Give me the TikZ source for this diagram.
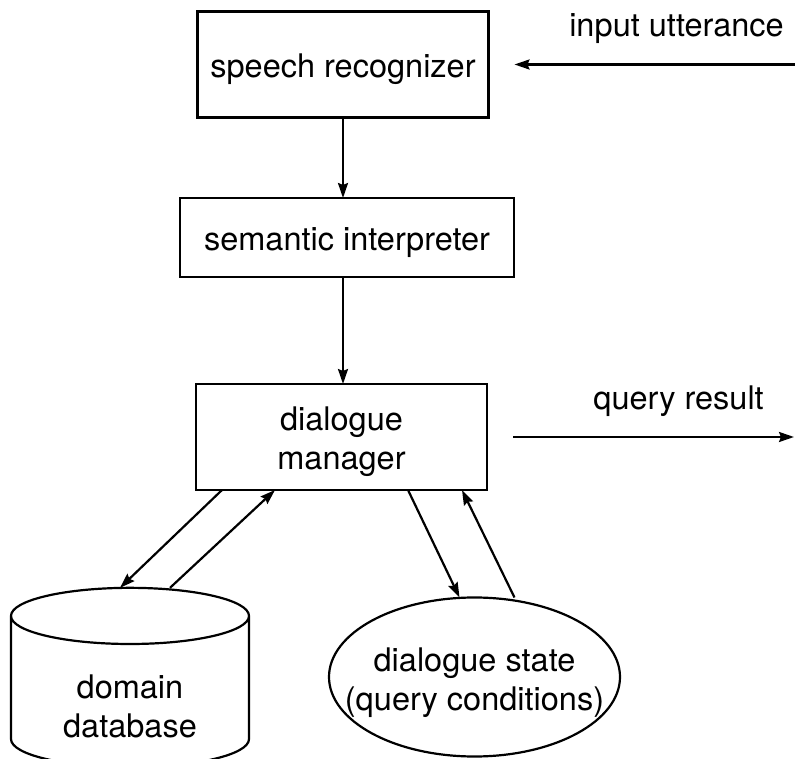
\documentclass[tikz,border=0pt]{standalone}
\usepackage{fontspec}
\setmainfont{TeX Gyre Heros}
\usetikzlibrary{arrows.meta}
\usetikzlibrary{positioning}
\usetikzlibrary{shapes.geometric}
\tikzset{
    block/.style={draw, rectangle, outer sep=0pt, minimum width=291pt, minimum height=106pt, align=center},
    store/.style={draw, cylinder, shape border rotate=90, aspect=0.42, outer sep=0pt, minimum width=238pt, minimum height=159pt, inner sep=0pt, align=center},
    statebox/.style={draw, ellipse, outer sep=0pt, minimum width=291pt, minimum height=159pt, inner xsep=-30pt, inner ysep=0pt, align=center},
  }
\begin{document}
\begin{tikzpicture}[->,>={Stealth[length=15pt,width=10pt,inset=2pt]},x=1pt,y=1pt,line width=2.2pt,font=\fontsize{32.5pt}{39pt}\selectfont]
  \useasboundingbox (0,0) rectangle (795,758);
  % the pipeline
  \node[block, text height=34pt, text depth=7pt] (sr) at (343,693.5) {speech recognizer};
  \node[block, minimum width=334pt, minimum height=79pt, text height=33pt, text depth=7pt] (si) [below=80.5pt of sr, xshift=4pt] {semantic interpreter};
  \node[block, text height=70pt, text depth=4pt] (dm) [below=107pt of si, xshift=-5.5pt] {dialogue\\manager};
  % stores
  \node[store, anchor=shape center, text height=92pt, text depth=2pt] (db) at (130,80.5) {domain\\database};
  \node[statebox, text height=70pt, text depth=4pt] (ds) at (474.5,81) {dialogue state\\(query conditions)};
  % outside
  \coordinate (uin) at (795,693.5);
  \coordinate (qout) at (794,321);
  \node[anchor=base] (inlbl) at (676.5,721) {input utterance};
  \node[anchor=base] (qlbl) at (678.5,348) {query result};

  \path (uin) edge[shorten >=26pt] (sr.east);
  \path (sr.south) edge (sr.south |- si.north);
  \path (si.south -| sr.south) edge (dm.north -| sr.south);
  \path (dm.east) edge[shorten <=26pt] (qout);
  \path ([xshift=26pt]dm.south west) edge ([xshift=-10pt]db.north);
  \path ([xshift=40pt]db.north) edge ([xshift=79pt]dm.south west);
  \path ([xshift=-79pt]dm.south east) edge ([xshift=-15pt]ds.north);
  \path ([xshift=40pt]ds.north) edge ([xshift=-25pt]dm.south east);
\end{tikzpicture}
\end{document}
